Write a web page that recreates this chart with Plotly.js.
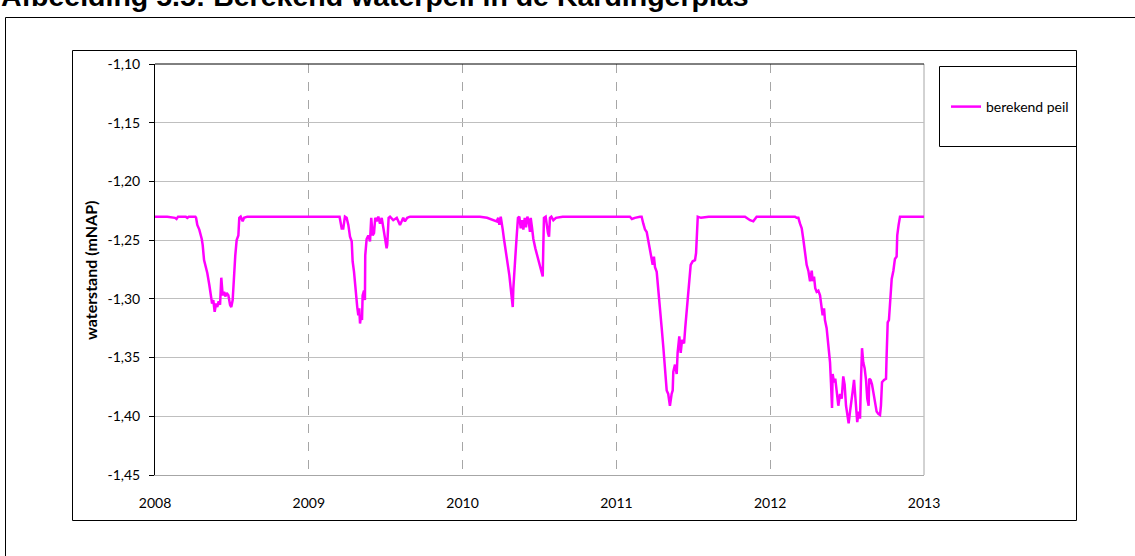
<!DOCTYPE html>
<html>
<head>
<meta charset="utf-8">
<script src="https://cdn.plot.ly/plotly-3.0.1.min.js"></script>
<style>
html,body{margin:0;padding:0;background:#fff;}
#chart{width:1135px;height:556px;}
</style>
</head>
<body>
<div id="chart"></div>
<script>
// ---- data (decimal year, water level in m NAP) ----
const years = [
2008.000,2008.080,2008.130,2008.140,2008.150,2008.200,2008.210,2008.220,2008.262,2008.267,
2008.275,2008.288,2008.304,2008.310,2008.319,2008.332,2008.340,2008.353,2008.362,2008.371,
2008.379,2008.388,2008.397,2008.405,2008.414,2008.423,2008.431,2008.440,2008.449,2008.457,
2008.466,2008.477,2008.488,2008.496,2008.505,2008.514,2008.522,2008.531,2008.542,2008.548,
2008.557,2008.570,2008.579,2008.600,2008.650,2009.000,2009.200,2009.214,2009.224,2009.235,
2009.246,2009.257,2009.268,2009.279,2009.285,2009.294,2009.300,2009.307,2009.315,2009.322,
2009.328,2009.333,2009.339,2009.346,2009.350,2009.359,2009.365,2009.367,2009.376,2009.387,
2009.398,2009.406,2009.415,2009.424,2009.432,2009.441,2009.452,2009.463,2009.474,2009.484,
2009.495,2009.506,2009.510,2009.519,2009.528,2009.549,2009.572,2009.593,2009.604,2009.614,
2009.625,2009.640,2009.658,2009.800,2010.000,2010.113,2010.159,2010.180,2010.211,2010.222,
2010.232,2010.239,2010.248,2010.254,2010.261,2010.269,2010.278,2010.287,2010.295,2010.304,
2010.313,2010.319,2010.326,2010.330,2010.336,2010.343,2010.352,2010.360,2010.369,2010.378,
2010.386,2010.395,2010.404,2010.412,2010.421,2010.430,2010.438,2010.443,2010.451,2010.460,
2010.473,2010.486,2010.499,2010.514,2010.521,2010.525,2010.529,2010.540,2010.547,2010.555,
2010.562,2010.568,2010.577,2010.590,2010.607,2010.650,2011.000,2011.088,2011.101,2011.120,
2011.153,2011.164,2011.175,2011.186,2011.197,2011.207,2011.218,2011.229,2011.236,2011.244,
2011.251,2011.262,2011.272,2011.283,2011.294,2011.305,2011.316,2011.327,2011.337,2011.348,
2011.359,2011.366,2011.370,2011.381,2011.392,2011.398,2011.409,2011.418,2011.427,2011.440,
2011.448,2011.457,2011.464,2011.474,2011.483,2011.496,2011.511,2011.518,2011.522,2011.529,
2011.550,2011.600,2011.800,2011.836,2011.869,2011.890,2011.912,2012.000,2012.161,2012.172,
2012.183,2012.194,2012.205,2012.215,2012.226,2012.237,2012.248,2012.259,2012.270,2012.276,
2012.285,2012.293,2012.302,2012.313,2012.324,2012.332,2012.341,2012.350,2012.356,2012.367,
2012.378,2012.389,2012.395,2012.402,2012.406,2012.415,2012.423,2012.432,2012.443,2012.454,
2012.465,2012.475,2012.484,2012.493,2012.501,2012.510,2012.519,2012.527,2012.536,2012.545,
2012.551,2012.558,2012.566,2012.575,2012.584,2012.590,2012.597,2012.605,2012.614,2012.623,
2012.631,2012.640,2012.644,2012.653,2012.662,2012.670,2012.681,2012.692,2012.703,2012.714,
2012.720,2012.727,2012.740,2012.753,2012.757,2012.764,2012.772,2012.779,2012.790,2012.801,
2012.811,2012.822,2012.826,2012.835,2012.844,2012.900,2013.000
];
const levels = [
-1.230,-1.230,-1.231,-1.232,-1.230,-1.230,-1.231,-1.230,-1.230,-1.231,
-1.237,-1.241,-1.249,-1.254,-1.267,-1.273,-1.278,-1.288,-1.297,-1.304,
-1.301,-1.311,-1.304,-1.307,-1.302,-1.305,-1.282,-1.297,-1.294,-1.298,
-1.295,-1.297,-1.305,-1.307,-1.301,-1.277,-1.263,-1.250,-1.246,-1.231,
-1.230,-1.234,-1.231,-1.230,-1.230,-1.230,-1.230,-1.240,-1.240,-1.230,
-1.231,-1.237,-1.247,-1.251,-1.268,-1.277,-1.288,-1.295,-1.307,-1.314,
-1.308,-1.321,-1.315,-1.318,-1.297,-1.293,-1.301,-1.263,-1.249,-1.246,
-1.251,-1.231,-1.246,-1.244,-1.231,-1.234,-1.230,-1.236,-1.231,-1.239,
-1.249,-1.257,-1.254,-1.231,-1.230,-1.233,-1.231,-1.237,-1.234,-1.231,
-1.234,-1.231,-1.230,-1.230,-1.230,-1.230,-1.231,-1.232,-1.233,-1.234,
-1.231,-1.237,-1.230,-1.234,-1.241,-1.249,-1.257,-1.263,-1.271,-1.280,
-1.291,-1.300,-1.307,-1.291,-1.271,-1.264,-1.246,-1.231,-1.230,-1.240,
-1.233,-1.241,-1.231,-1.239,-1.230,-1.234,-1.243,-1.231,-1.239,-1.249,
-1.257,-1.264,-1.270,-1.277,-1.281,-1.254,-1.231,-1.230,-1.237,-1.244,
-1.247,-1.231,-1.230,-1.233,-1.231,-1.230,-1.230,-1.230,-1.232,-1.231,
-1.230,-1.230,-1.236,-1.241,-1.243,-1.250,-1.256,-1.264,-1.271,-1.264,
-1.273,-1.277,-1.290,-1.304,-1.324,-1.341,-1.361,-1.378,-1.381,-1.391,
-1.381,-1.378,-1.362,-1.356,-1.364,-1.346,-1.332,-1.346,-1.335,-1.338,
-1.324,-1.310,-1.295,-1.284,-1.271,-1.268,-1.267,-1.261,-1.244,-1.230,
-1.231,-1.230,-1.230,-1.230,-1.233,-1.234,-1.230,-1.230,-1.230,-1.231,
-1.231,-1.236,-1.240,-1.249,-1.260,-1.271,-1.276,-1.285,-1.276,-1.285,
-1.281,-1.291,-1.294,-1.293,-1.297,-1.305,-1.314,-1.308,-1.318,-1.325,
-1.337,-1.354,-1.371,-1.393,-1.364,-1.371,-1.368,-1.379,-1.391,-1.381,
-1.385,-1.366,-1.373,-1.391,-1.399,-1.406,-1.396,-1.385,-1.379,-1.369,
-1.379,-1.398,-1.405,-1.396,-1.402,-1.371,-1.342,-1.354,-1.359,-1.369,
-1.385,-1.391,-1.368,-1.369,-1.373,-1.379,-1.388,-1.396,-1.398,-1.399,
-1.391,-1.371,-1.369,-1.368,-1.348,-1.320,-1.318,-1.300,-1.283,-1.276,
-1.266,-1.264,-1.246,-1.237,-1.230,-1.230,-1.230
];
const seriesName = "berekend peil";
const xTickVals = [2008, 2009, 2010, 2011, 2012, 2013];
const xTickText = ["2008", "2009", "2010", "2011", "2012", "2013"];
const yTickVals = [-1.45, -1.40, -1.35, -1.30, -1.25, -1.20, -1.15, -1.10];
const yTickText = ["-1,45", "-1,40", "-1,35", "-1,30", "-1,25", "-1,20", "-1,15", "-1,10"];
const titleText = "Afbeelding 5.5: Berekend waterpeil in de Kardingerplas";
const yTitleText = "waterstand (mNAP)";

// ---- layout geometry (pixels) ----
const W = 1135, H = 556;
const L = 155, R = 924, T = 64, B = 475;
const pw = R - L, ph = B - T;
const px = v => (v - L) / pw;
const py = v => (B - v) / ph;

const font = "Lato, 'Open Sans', sans-serif";

const trace = {
  x: years, y: levels, type: "scatter", mode: "lines", name: seriesName,
  line: {color: "#FF00FF", width: 2.5}, showlegend: true
};

const layout = {
  width: W, height: H,
  margin: {l: L, r: W - R, t: T, b: H - B, pad: 0},
  paper_bgcolor: "#ffffff", plot_bgcolor: "#ffffff",
  font: {family: font, size: 14, color: "#000000"},
  showlegend: true,
  legend: {
    x: px(946), xanchor: "left", y: py(107), yanchor: "middle",
    bgcolor: "rgba(0,0,0,0)", borderwidth: 0,
    font: {family: font, size: 14, color: "#000"}
  },
  xaxis: {
    range: [2008, 2013], type: "linear",
    tickmode: "array", tickvals: xTickVals, ticktext: xTickText,
    showgrid: true, gridcolor: "#A6A6A6", griddash: "dash", gridwidth: 1,
    showline: true, linecolor: "#A6A6A6", linewidth: 1,
    ticks: "", zeroline: false, ticklabelstandoff: 15,
    tickfont: {family: font, size: 14, color: "#000"}, fixedrange: true
  },
  yaxis: {
    range: [-1.45, -1.10],
    tickmode: "array", tickvals: yTickVals, ticktext: yTickText,
    showgrid: true, gridcolor: "#BFBFBF", gridwidth: 1,
    showline: true, linecolor: "#000000", linewidth: 1,
    ticks: "outside", ticklen: 5, tickcolor: "#000", tickwidth: 1,
    zeroline: false, ticklabelstandoff: 6,
    tickfont: {family: font, size: 14, color: "#000"}, fixedrange: true
  },
  shapes: [
    // outer frame
    {type: "rect", xref: "paper", yref: "paper", x0: px(5.5), x1: px(1145), y0: py(575), y1: py(17.5),
     line: {color: "#000", width: 1}, fillcolor: "rgba(0,0,0,0)", layer: "above"},
    // chart area box
    {type: "rect", xref: "paper", yref: "paper", x0: px(72.5), x1: px(1076.5), y0: py(520.5), y1: py(50.5),
     line: {color: "#000", width: 1}, fillcolor: "rgba(0,0,0,0)", layer: "above"},
    // legend box
    {type: "rect", xref: "paper", yref: "paper", x0: px(939.5), x1: px(1076.5), y0: py(146.5), y1: py(66.5),
     line: {color: "#000", width: 1}, fillcolor: "rgba(0,0,0,0)", layer: "above"},
    // plot area top border
    {type: "line", xref: "paper", yref: "paper", x0: 0, x1: 1, y0: 1, y1: 1,
     line: {color: "#000", width: 1}, layer: "above"},
    // plot area right border
    {type: "line", xref: "paper", yref: "paper", x0: 1, x1: 1, y0: 0, y1: 1,
     line: {color: "#A6A6A6", width: 1}, layer: "below"}
  ],
  annotations: [
    {text: "<b>" + titleText + "</b>", xref: "paper", yref: "paper",
     x: px(-1), xanchor: "left", y: py(-4), yanchor: "middle", showarrow: false,
     font: {family: "'Liberation Sans', Arial, sans-serif", size: 28.5, color: "#000"}},
    {text: "<b>" + yTitleText + "</b>", xref: "paper", yref: "paper",
     x: px(90), xanchor: "center", y: py(270), yanchor: "middle", showarrow: false,
     textangle: -90, font: {family: font, size: 16, color: "#000"}}
  ]
};

Plotly.newPlot("chart", [trace], layout, {staticPlot: true, displayModeBar: false});
</script>
</body>
</html>
